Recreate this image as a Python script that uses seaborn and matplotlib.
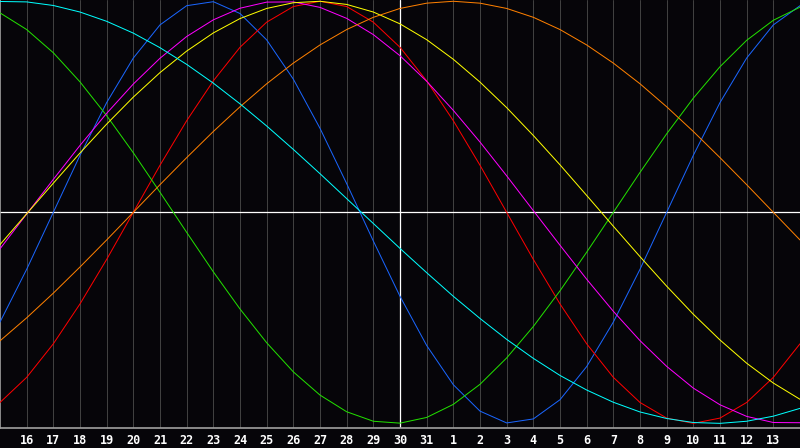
import matplotlib
matplotlib.use("Agg")
import matplotlib.pyplot as plt
import seaborn as sns
import pandas as pd

# days shown on the chart (15th of one month to 14th of the next)
day_labels = ["15", "16", "17", "18", "19", "20", "21", "22", "23", "24", "25",
              "26", "27", "28", "29", "30", "31", "1", "2", "3", "4", "5", "6",
              "7", "8", "9", "10", "11", "12", "13", "14"]
today_label = "30"

# cycle values per day (-1 .. 1)
physical = [-0.520, -0.270, 0.000, 0.270, 0.520, 0.731, 0.888, 0.979, 0.998, 0.942,
            0.817, 0.631, 0.398, 0.136, -0.136, -0.398, -0.631, -0.817, -0.942, -0.998,
            -0.979, -0.888, -0.731, -0.520, -0.270, 0.000, 0.270, 0.520, 0.731, 0.888,
            0.979]
emotional = [-0.901, -0.782, -0.623, -0.434, -0.223, 0.000, 0.223, 0.434, 0.623, 0.782,
             0.901, 0.975, 1.000, 0.975, 0.901, 0.782, 0.623, 0.434, 0.223, 0.000,
             -0.223, -0.434, -0.623, -0.782, -0.901, -0.975, -1.000, -0.975, -0.901, -0.782,
             -0.623]
intellectual = [0.945, 0.866, 0.756, 0.618, 0.458, 0.282, 0.095, -0.095, -0.282, -0.458,
                -0.618, -0.756, -0.866, -0.945, -0.990, -0.999, -0.972, -0.910, -0.815, -0.690,
                -0.541, -0.372, -0.189, 0.000, 0.189, 0.372, 0.541, 0.690, 0.815, 0.910,
                0.972]
intuitive = [-0.173, -0.008, 0.156, 0.317, 0.469, 0.608, 0.730, 0.833, 0.912, 0.967,
             0.996, 0.997, 0.971, 0.919, 0.842, 0.742, 0.621, 0.483, 0.333, 0.173,
             0.008, -0.156, -0.317, -0.469, -0.608, -0.730, -0.833, -0.912, -0.967, -0.996,
             -0.997]
aesthetic = [-0.153, -0.007, 0.138, 0.281, 0.418, 0.546, 0.662, 0.764, 0.850, 0.918,
             0.966, 0.993, 1.000, 0.985, 0.949, 0.893, 0.818, 0.725, 0.617, 0.496,
             0.364, 0.225, 0.080, -0.066, -0.210, -0.350, -0.483, -0.605, -0.715, -0.809,
             -0.886]
awareness = [-0.609, -0.500, -0.383, -0.259, -0.131, 0.000, 0.131, 0.259, 0.383, 0.500,
             0.609, 0.707, 0.793, 0.866, 0.924, 0.966, 0.991, 1.000, 0.991, 0.966,
             0.924, 0.866, 0.793, 0.707, 0.609, 0.500, 0.383, 0.259, 0.131, 0.000,
             -0.131]
spiritual = [0.999, 0.997, 0.980, 0.949, 0.905, 0.849, 0.780, 0.701, 0.612, 0.514,
             0.409, 0.298, 0.183, 0.065, -0.053, -0.171, -0.286, -0.398, -0.503, -0.602,
             -0.692, -0.773, -0.842, -0.900, -0.946, -0.977, -0.996, -1.000, -0.990, -0.966,
             -0.929]

cycle_names = ["physical", "emotional", "intellectual", "intuitive",
               "aesthetic", "awareness", "spiritual"]
cycle_colors = ["#1a66ff", "#ff0000", "#22e000", "#ff00ff",
                "#ffff00", "#ff8000", "#00ffff"]

# long-form table for seaborn
series = [physical, emotional, intellectual, intuitive, aesthetic, awareness, spiritual]
rows = []
for name, values in zip(cycle_names, series):
    for i, v in enumerate(values):
        rows.append({"day": i, "cycle": name, "value": v})
df = pd.DataFrame(rows)

bg = "#060509"
sns.set_style("dark", {"axes.facecolor": bg, "figure.facecolor": bg})

fig = plt.figure(figsize=(8, 4.48), dpi=100)
ax = fig.add_axes([0, 20 / 448, 1, 428 / 448])
ax.set_facecolor(bg)

# day grid lines
for i in range(1, len(day_labels) - 1):
    ax.axvline(i, color="#404040", lw=0.72, zorder=0)

# zero line and today marker
ax.axhline(0, color="white", lw=0.9, zorder=1)
ax.axvline(day_labels.index(today_label), color="white", lw=0.9, zorder=1)

sns.lineplot(data=df, x="day", y="value", hue="cycle", hue_order=cycle_names,
             palette=dict(zip(cycle_names, cycle_colors)), linewidth=0.72,
             legend=False, ax=ax, zorder=3)

ax.set_xlim(0, len(day_labels) - 1)
ax.set_ylim(-1.022, 1.006)
ax.set_xticks(range(1, len(day_labels) - 1))
ax.set_xticklabels(day_labels[1:-1], color="white", fontsize=8.5,
                   fontweight="bold", family="DejaVu Sans Mono")
ax.tick_params(axis="x", length=0, pad=4)
ax.set_yticks([])
ax.set_xlabel("")
ax.set_ylabel("")
ax.grid(False)

for side in ["top", "right"]:
    ax.spines[side].set_visible(False)
for side in ["left", "bottom"]:
    ax.spines[side].set_visible(True)
    ax.spines[side].set_color("#a0a0a0")
    ax.spines[side].set_linewidth(1.2)

fig.savefig("out.png", dpi=100, facecolor=bg)
